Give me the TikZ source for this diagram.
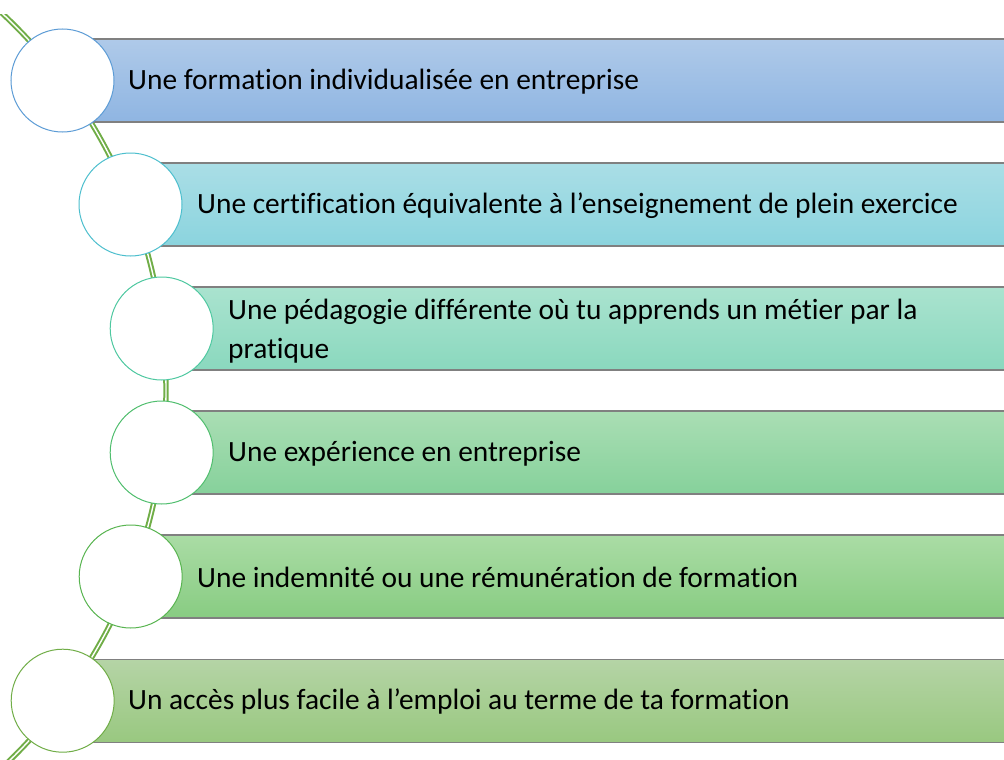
\documentclass[tikz,border=0pt]{standalone}
\usepackage{fontspec}
\setmainfont{Carlito}[Ligatures={NoCommon}]
\begin{document}
\begin{tikzpicture}[x=1pt,y=-1pt,
  dot/.style={circle, draw=#1, line width=1pt, fill=white, minimum size=103pt, inner sep=0pt},
  lbl/.style={anchor=west, inner sep=0pt, align=flush left, text width=#1, font=\fontsize{29.4}{39}\selectfont},
  wave/.style={draw=wgreen, line width=2pt, double=white, double distance=1.4pt}]
\definecolor{wgreen}{RGB}{112,173,71}
\definecolor{b1t}{RGB}{175,202,233}\definecolor{b1b}{RGB}{143,181,226}
\definecolor{b2t}{RGB}{170,222,230}\definecolor{b2b}{RGB}{139,212,222}
\definecolor{b3t}{RGB}{170,227,207}\definecolor{b3b}{RGB}{138,216,190}
\definecolor{b4t}{RGB}{170,222,180}\definecolor{b4b}{RGB}{134,209,155}
\definecolor{b5t}{RGB}{170,220,165}\definecolor{b5b}{RGB}{136,204,130}
\definecolor{b6t}{RGB}{181,212,166}\definecolor{b6b}{RGB}{153,200,128}
\definecolor{c1}{RGB}{91,155,213}
\definecolor{c2}{RGB}{75,190,205}
\definecolor{c3}{RGB}{78,200,160}
\definecolor{c4}{RGB}{80,190,110}
\definecolor{c5}{RGB}{88,180,80}
\definecolor{c6}{RGB}{112,173,71}
\useasboundingbox (0,0) rectangle (1004,760);
\begin{scope}
\clip (0,15) rectangle (1004,760);
\coordinate (arcc) at (-350,390.5);
\draw[wave] (arcc) circle (516);
\end{scope}
\begin{scope}
\clip (0,0) rectangle (1004,760);
\foreach \i/\cx/\cy in {1/62.5/80.5, 2/130.5/204.5, 3/161.7/328.5, 4/161.7/452.5, 5/130.7/576.5, 6/62.7/700.7}{
  \path[shade, top color=b\i t, bottom color=b\i b] (\cx,\cy-41.5) rectangle (1010,\cy+41.5);
  \draw[black!50, line width=1.3pt] (\cx,\cy-41.5) -- (1010,\cy-41.5) (\cx,\cy+41.5) -- (1010,\cy+41.5);
}
\end{scope}
\node[dot=c1] (c1) at (62.5,80.5) {};
\node[dot=c2] (c2) at (130.5,204.5) {};
\node[dot=c3] (c3) at (161.7,328.5) {};
\node[dot=c4] (c4) at (161.7,452.5) {};
\node[dot=c5] (c5) at (130.7,576.5) {};
\node[dot=c6] (c6) at (62.7,700.7) {};
\node[lbl=860pt] (t1) at (128,81.5) {Une formation individualisée en entreprise};
\node[lbl=800pt] (t2) at (197,205.5) {Une certification équivalente à l’enseignement de plein exercice};
\node[lbl=730pt] (t3) at (228,331.5) {Une pédagogie différente où tu apprends un métier par la pratique};
\node[lbl=740pt] (t4) at (228,453.5) {Une expérience en entreprise};
\node[lbl=800pt] (t5) at (197,577.5) {Une indemnité ou une rémunération de formation};
\node[lbl=860pt] (t6) at (128,701.7) {Un accès plus facile à l’emploi au terme de ta formation};
\end{tikzpicture}
\end{document}
